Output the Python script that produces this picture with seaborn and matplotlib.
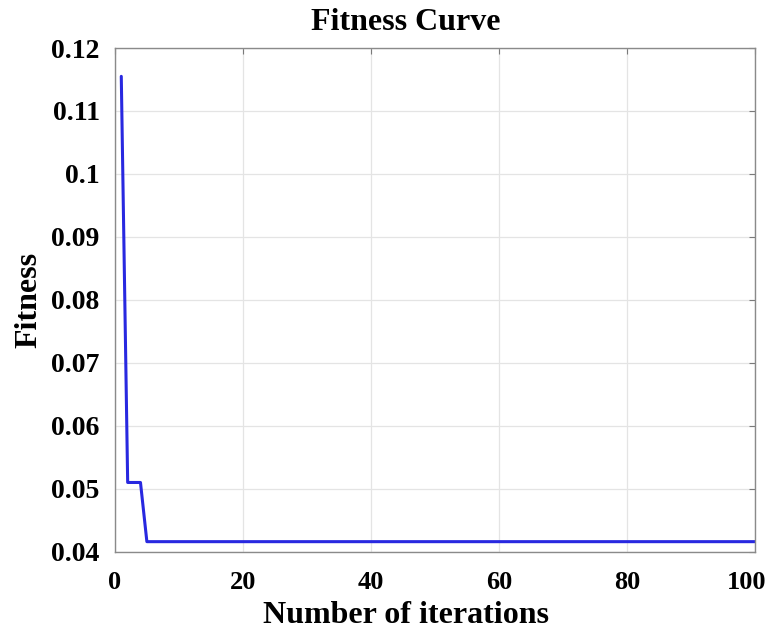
import numpy as np
import pandas as pd
import matplotlib
matplotlib.use("Agg")
import matplotlib.pyplot as plt
import matplotlib.transforms as mtransforms
import seaborn as sns

# Best fitness per iteration
iterations = list(range(1, 101))
fitness = [0.1155, 0.051, 0.051, 0.051] + [0.0416] * 96

x_ticks = [0, 20, 40, 60, 80, 100]
y_ticks = [0.04, 0.05, 0.06, 0.07, 0.08, 0.09, 0.1, 0.11, 0.12]
y_tick_labels = ["0.04", "0.05", "0.06", "0.07", "0.08", "0.09", "0.1", "0.11", "0.12"]

df = pd.DataFrame({"Iteration": iterations, "Fitness": fitness})

sns.set_style("whitegrid")
plt.rcParams["font.family"] = ["Liberation Serif", "DejaVu Serif"]
plt.rcParams["font.weight"] = "bold"
plt.rcParams["text.color"] = "black"
plt.rcParams["axes.labelcolor"] = "black"

fig = plt.figure(figsize=(7.71, 6.32), dpi=100)
ax = fig.add_axes([0.149, 0.127, 0.830, 0.797])

sns.lineplot(data=df, x="Iteration", y="Fitness", ax=ax, color="#2828e0", linewidth=2.2)

ax.set_xlim(0, 100)
ax.set_ylim(0.04, 0.12)
ax.set_xticks(x_ticks)
ax.set_yticks(y_ticks)
ax.set_yticklabels(y_tick_labels)
ax.tick_params(axis="both", which="both", direction="in", length=4, width=0.8,
               colors="#7a7a7a", labelcolor="black", top=True, right=True)
ax.tick_params(axis="x", labelsize=19, pad=14)
ax.tick_params(axis="y", labelsize=20, pad=11)
for lab in ax.get_xticklabels() + ax.get_yticklabels():
    lab.set_fontweight("bold")

# keep the last x tick label inside the canvas
last = ax.get_xticklabels()[-1]
last.set_transform(last.get_transform() +
                   mtransforms.ScaledTranslation(-8 / 100, 0, fig.dpi_scale_trans))

ax.grid(True, color="#e4e4e4", linewidth=0.9)
for s in ax.spines.values():
    s.set_visible(True)
    s.set_color("#8a8a8a")
    s.set_linewidth(1.0)

ax.set_title("Fitness Curve", fontsize=23, fontweight="bold", x=0.455, pad=13)
ax.set_xlabel("Number of iterations", fontsize=23, fontweight="bold")
ax.xaxis.label.set_verticalalignment("baseline")
ax.xaxis.set_label_coords(0.455, -0.141)
ax.set_ylabel("Fitness", fontsize=23, fontweight="bold")
ax.yaxis.set_label_coords(-0.111, 0.5)

fig.savefig("out.png", dpi=100, facecolor="white")
